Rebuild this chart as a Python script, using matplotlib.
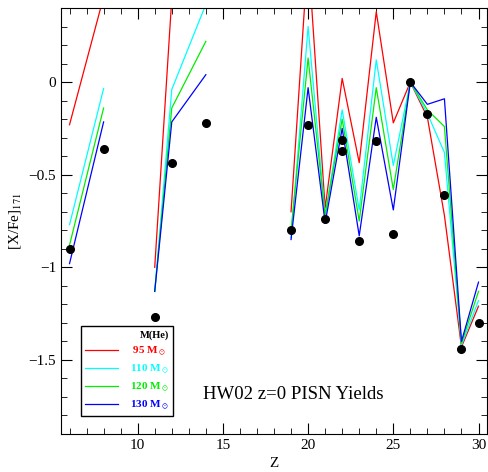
import matplotlib
matplotlib.use("Agg")
import matplotlib.pyplot as plt
import numpy as np
from matplotlib.ticker import MultipleLocator

nan = np.nan

# model Z grid, NaN breaks the lines (odd-Z gaps)
z_model = [6, 8, nan, 11, 12, 14, nan, 19, 20, 21, 22, 23, 24, 25, 26, 27, 28, 29, 30]
y_95  = [-0.23, 0.46, nan, -1.00, 0.45, 0.90, nan, -0.70, 0.70, -0.68, 0.02, -0.435, 0.38, -0.22, 0.0, -0.19, -0.72, -1.43, -1.21]
y_110 = [-0.77, -0.035, nan, -1.13, -0.04, 0.42, nan, -0.84, 0.30, -0.72, -0.15, -0.69, 0.12, -0.45, 0.0, -0.17, -0.38, -1.42, -1.18]
y_120 = [-0.88, -0.14, nan, -1.13, -0.14, 0.22, nan, -0.80, 0.13, -0.72, -0.20, -0.75, -0.03, -0.58, 0.0, -0.15, -0.24, -1.41, -1.13]
y_130 = [-0.98, -0.215, nan, -1.13, -0.215, 0.04, nan, -0.85, -0.03, -0.76, -0.25, -0.83, -0.19, -0.69, 0.0, -0.12, -0.09, -1.40, -1.08]

# observed abundances
z_obs   = [6, 8, 11, 12, 14, 19, 20, 21, 22, 22, 23, 24, 25, 26, 27, 28, 29, 30]
xfe_obs = [-0.90, -0.36, -1.27, -0.435, -0.22, -0.80, -0.23, -0.74, -0.31, -0.37, -0.86, -0.32, -0.82, 0.0, -0.17, -0.61, -1.44, -1.30]

plt.rcParams['font.family'] = ['Liberation Serif', 'DejaVu Serif']
plt.rcParams['mathtext.fontset'] = 'stix'

fig = plt.figure(figsize=(4.88, 4.72), dpi=100)
ax = fig.add_axes([0.125, 0.0805, 0.873, 0.9025])

ax.plot(z_model, y_95, '-', color='red', lw=0.9, label=r' 95 M$_\odot$')
ax.plot(z_model, y_110, '-', color='cyan', lw=0.9, label=r'110 M$_\odot$')
ax.plot(z_model, y_120, '-', color='#00ee00', lw=0.9, label=r'120 M$_\odot$')
ax.plot(z_model, y_130, '-', color='blue', lw=0.9, label=r'130 M$_\odot$')
ax.plot(z_obs, xfe_obs, 'o', color='black', ms=5.5, clip_on=False, zorder=5)

ax.set_xlim(5.5, 30.5)
ax.set_ylim(-1.9, 0.4)
ax.xaxis.set_major_locator(MultipleLocator(5))
ax.xaxis.set_minor_locator(MultipleLocator(1))
ax.yaxis.set_major_locator(MultipleLocator(0.5))
ax.yaxis.set_minor_locator(MultipleLocator(0.1))
ax.tick_params(which='both', direction='in', top=True, right=True, labelsize=11)
ax.tick_params(which='major', length=8)
ax.tick_params(which='minor', length=4)
ax.set_yticks([0, -0.5, -1, -1.5])
ax.set_yticklabels(['0', '\u22120.5', '\u22121', '\u22121.5'])

ax.set_xlabel('Z', fontsize=11)
ax.set_ylabel(r'[X/Fe]$_{171}$', fontsize=11)

ax.text(0.545, 0.083, 'HW02 z=0 PISN Yields', transform=ax.transAxes, fontsize=13.5, ha='center')

leg = ax.legend(loc='lower left', bbox_to_anchor=(0.047, 0.042), title='M(He)',
                fancybox=False, edgecolor='black', labelcolor='linecolor',
                prop={'weight': 'bold', 'size': 8}, handlelength=3.0,
                borderpad=0.35, labelspacing=0.45, handletextpad=1.1,
                borderaxespad=0, framealpha=1)
leg.get_title().set_fontweight('bold')
leg.get_title().set_fontsize(7.5)
leg._legend_box.align = 'right'
leg.get_frame().set_linewidth(1.0)

fig.savefig('out.png', dpi=100)
